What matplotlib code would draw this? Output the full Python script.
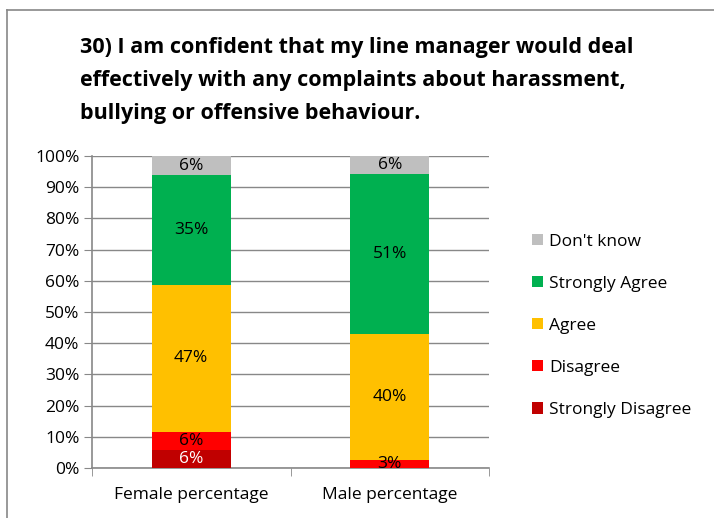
import matplotlib.pyplot as plt
from matplotlib.lines import Line2D

plt.rcParams['font.family'] = ['Open Sans', 'DejaVu Sans']

categories = ['Female percentage', 'Male percentage']
series = ['Strongly Disagree', 'Disagree', 'Agree', 'Strongly Agree', "Don't know"]
strongly_disagree = [5.8, 0.0]
disagree = [5.8, 2.6]
agree = [47.1, 40.3]
strongly_agree = [35.2, 51.4]
dont_know = [6.1, 5.7]
values = [strongly_disagree, disagree, agree, strongly_agree, dont_know]
colors = ['#C00000', '#FF0000', '#FFC000', '#00B050', '#BFBFBF']
label_colors = ['white', 'black', 'black', 'black', 'black']

fig = plt.figure(figsize=(7.14, 5.18), dpi=100)
ax = fig.add_axes([92 / 714, 50 / 518, 397 / 714, 312 / 518])

x = range(len(categories))
bottom = [0, 0]
handles = []
for name, vals, col, lc in zip(series, values, colors, label_colors):
    bars = ax.bar(x, vals, width=0.4, bottom=bottom, color=col, label=name, zorder=3)
    handles.append(bars)
    for i, v in enumerate(vals):
        if v > 0:
            ax.text(i, bottom[i] + v / 2, f'{round(v):d}%', ha='center', va='center',
                    fontsize=12.5, color=lc, zorder=4)
    bottom = [b + v for b, v in zip(bottom, vals)]

ax.set_xlim(-0.5, 1.5)
ax.set_ylim(0, 100)
ax.set_yticks(range(0, 101, 10))
ax.set_yticklabels([f'{t}%' for t in range(0, 101, 10)], fontsize=12.5)
ax.set_xticks([0, 1])
ax.set_xticklabels(categories, fontsize=12.5)
ax.set_xticks([-0.5, 0.5, 1.5], minor=True)
ax.tick_params(axis='x', which='major', length=0, pad=14)
ax.tick_params(axis='x', which='minor', length=6, color='#888888')
ax.tick_params(axis='y', length=6, color='#888888', pad=3)
ax.grid(axis='y', color='#888888', linewidth=1, zorder=0)
for s in ['top', 'right']:
    ax.spines[s].set_visible(False)
for s in ['left', 'bottom']:
    ax.spines[s].set_color('#888888')
    ax.spines[s].set_linewidth(1.2)

ax.legend(handles[::-1], series[::-1], loc='center left', bbox_to_anchor=(1.07, 0.455),
          frameon=False, fontsize=12.5, handlelength=0.6, handleheight=0.6,
          handletextpad=0.35, labelspacing=1.5)

fig.text(80 / 714, 1 - 37 / 518,
         '30) I am confident that my line manager would deal\n'
         'effectively with any complaints about harassment,\n'
         'bullying or offensive behaviour.',
         fontsize=15.5, fontweight='bold', ha='left', va='top', linespacing=1.75)

# chart border
fig.add_artist(Line2D([7 / 714, 7 / 714], [0, 1 - 10 / 518], transform=fig.transFigure,
                      color='#888888', linewidth=1.2))
fig.add_artist(Line2D([7 / 714, 1], [1 - 10 / 518, 1 - 10 / 518], transform=fig.transFigure,
                      color='#888888', linewidth=1.2))

plt.savefig('out.png', dpi=100)
